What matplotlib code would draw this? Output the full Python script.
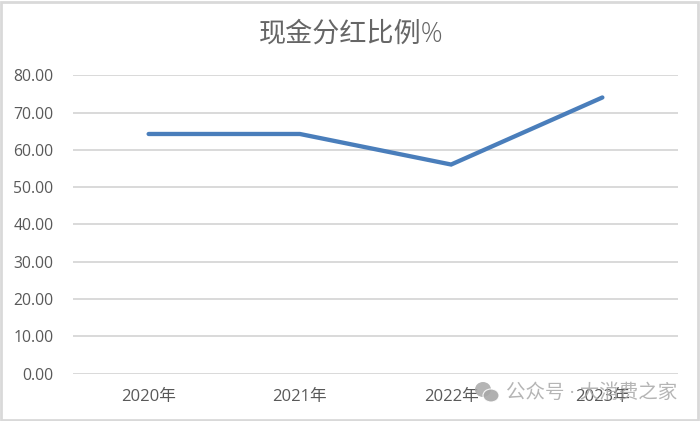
import matplotlib
matplotlib.use('Agg')
from matplotlib import pyplot as plt
from matplotlib.patches import Ellipse, Rectangle

plt.rcParams['font.family'] = ['Open Sans', 'Noto Sans CJK SC', 'DejaVu Sans']

years = ['2020年', '2021年', '2022年', '2023年']
payout = [64.3, 64.3, 56.1, 74.1]
y_ticks = [0, 10, 20, 30, 40, 50, 60, 70, 80]

W, H = 700, 421
fig = plt.figure(figsize=(W / 100, H / 100), dpi=100, facecolor='white')
ax = fig.add_axes([73 / W, 1 - 373.5 / H, 605 / W, 298 / H])

ax.plot(range(len(years)), payout, color='#4a7ebb', lw=3.1, solid_capstyle='round',
        solid_joinstyle='miter', zorder=3)

ax.set_xlim(-0.5, 3.5)
ax.set_ylim(0, 80)
ax.set_yticks(y_ticks)
ax.set_yticklabels(['{:.2f}'.format(v) for v in y_ticks], fontsize=11.3, color='#595959')
ax.set_xticks(range(len(years)))
ax.set_xticklabels(years, fontsize=12, color='#595959')
ax.tick_params(length=0)
ax.tick_params(axis='y', pad=14)
ax.tick_params(axis='x', pad=11.5)
ax.grid(axis='y', color='#d0d0d0', lw=1.1)
ax.set_axisbelow(True)
for s in ax.spines.values():
    s.set_visible(False)
ax.patch.set_alpha(0)

fig.text(351 / W, 1 - 34.5 / H, '现金分红比例%', fontsize=19.5, color='#666666',
         ha='center', va='center', fontweight='light')

# outer chart border
fig.add_artist(Rectangle((1 / W, 1 / H), 697 / W, 418 / H, transform=fig.transFigure,
                         fill=False, ec='#d9d9d9', lw=2))

# watermark
wm = '#a8a8a8'
fig.add_artist(Ellipse((483 / W, 1 - 389.5 / H), 16 / W, 15 / H, transform=fig.transFigure,
                       fc=wm, ec='none', alpha=0.85))
fig.add_artist(Ellipse((491 / W, 1 - 395.5 / H), 16 / W, 13 / H, transform=fig.transFigure,
                       fc=wm, ec='white', lw=0.8, alpha=0.9))
fig.text(506 / W, 1 - 393 / H, '公众号 · 大消费之家', fontsize=14, color=wm, alpha=0.85,
         ha='left', va='center')

fig.savefig('out.png', dpi=100)
